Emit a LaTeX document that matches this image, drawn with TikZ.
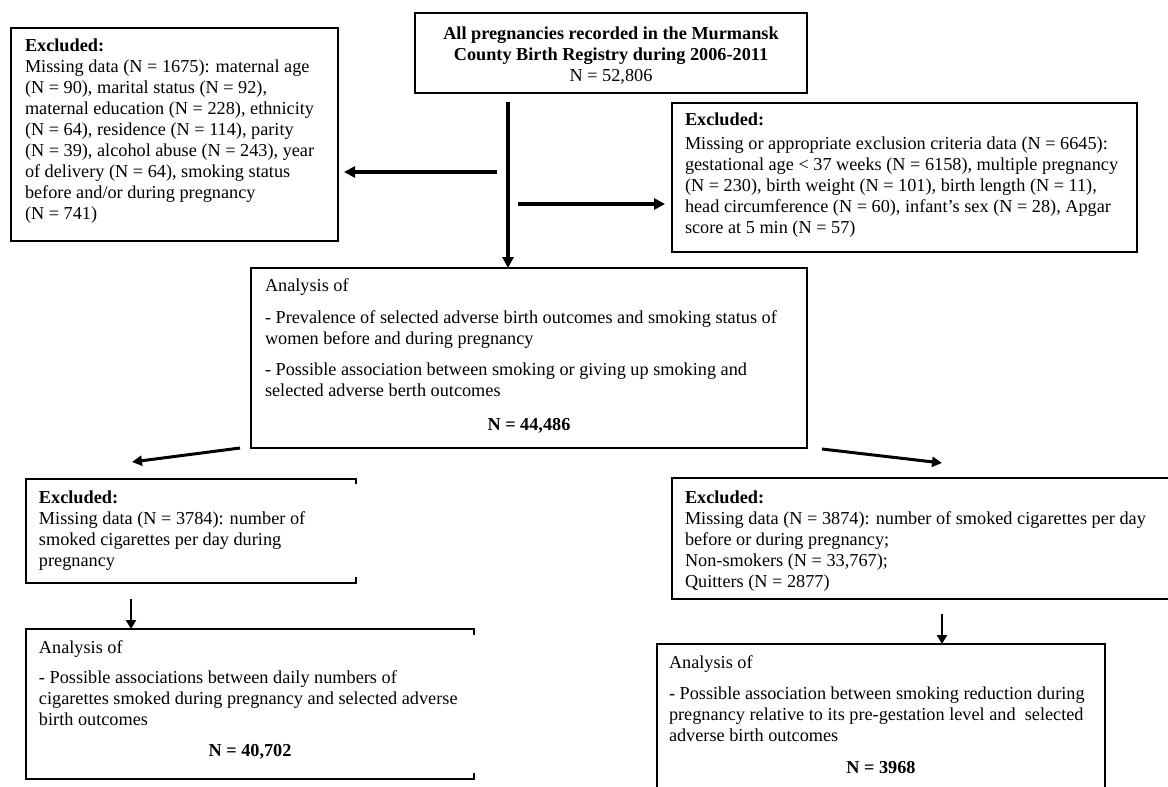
\documentclass[tikz,border=0pt]{standalone}
\usepackage{fontspec}
\setmainfont{Liberation Serif}
\usetikzlibrary{arrows.meta}
% #1 left pad, #2 box width, #3 box height, #4 top pad, #5 content
\newcommand\bxt[5]{\hspace*{#1pt}\makebox[\dimexpr#2pt-#1pt\relax][l]{\parbox[c][#3pt][t]{\dimexpr#2pt-#1pt+40pt\relax}{\raggedright\vspace*{#4pt}\strut#5}}}
% centred line: #1 box width, #2 left pad, #3 text
\newcommand\ctrl[3]{\makebox[\dimexpr#1pt-#2pt-#2pt\relax][c]{#3}}
\begin{document}
\begin{tikzpicture}[x=1pt,y=-1pt,
  every node/.style={inner sep=0pt, outer sep=0pt, anchor=north west,
    font=\fontsize{18.25pt}{21pt}\selectfont},
  boxd/.style={draw, line width=1.1pt},
  bord/.style={line width=1.1pt},
  arr/.style={line width=3.5pt, -{Triangle[length=11pt,width=11pt]}},
  arrd/.style={line width=3pt, -{Triangle[length=10pt,width=10pt]}},
  arrs/.style={line width=2.6pt, -{Triangle[length=9pt,width=10pt]}}]
\useasboundingbox (0,0) rectangle (1168,787);

% boxes
\node[boxd] (top) at (415,13) {\bxt{0}{392}{80}{11.3}{%
  \ctrl{392}{0}{\textbf{All pregnancies recorded in the Murmansk}}\\
  \ctrl{392}{0}{\textbf{County Birth Registry during 2006-2011}}\\
  \ctrl{392}{0}{N = 52,806}}};

\node[boxd] (exl) at (11,28) {\bxt{14}{327}{213}{8.3}{%
  \textbf{Excluded:}\\
  Missing data (N = 1675): maternal age\\
  (N = 90), marital status (N = 92),\\
  maternal education (N = 228), ethnicity\\
  (N = 64), residence (N = 114), parity\\
  (N = 39), alcohol abuse (N = 243), year\\
  of delivery (N = 64), smoking status\\
  before and/or during pregnancy\\
  (N = 741)}};

\node[boxd] (exr) at (672,103) {\bxt{13}{465}{149}{7.3}{%
  \textbf{Excluded:}\\[3pt]
  Missing or appropriate exclusion criteria data (N = 6645):\\
  gestational age < 37 weeks (N = 6158), multiple pregnancy\\
  (N = 230), birth weight (N = 101), birth length (N = 11),\\
  head circumference (N = 60), infant’s sex (N = 28), Apgar\\
  score at 5 min (N = 57)}};

\node[boxd] (ana) at (251,268) {\bxt{14}{556}{180}{8.3}{%
  Analysis of\\[11pt]
  - Prevalence of selected adverse birth outcomes and smoking status of\\
  women before and during pregnancy\\[10pt]
  - Possible association between smoking or giving up smoking and\\
  selected adverse berth outcomes\\[13pt]
  \ctrl{556}{14}{\textbf{N = 44,486}}}};

\node (ble) at (26,479) {\bxt{13}{330}{104}{9.3}{%
  \textbf{Excluded:}\\
  Missing data (N = 3784): number of\\
  smoked cigarettes per day during\\
  pregnancy}};

\node (bla) at (26,629) {\bxt{13}{448}{150}{9.3}{%
  Analysis of\\[9pt]
  - Possible associations between daily numbers of\\
  cigarettes smoked during pregnancy and selected adverse\\
  birth outcomes\\[10pt]
  \ctrl{448}{13}{\textbf{N = 40,702}}}};

\node (bre) at (672,478) {\bxt{13}{520}{121}{10.3}{%
  \textbf{Excluded:}\\
  Missing data (N = 3874): number of smoked cigarettes per day\\
  before or during pregnancy;\\
  Non-smokers (N = 33,767);\\
  Quitters (N = 2877)}};

\node (bra) at (657,644) {\bxt{12}{448}{160}{9.3}{%
  Analysis of\\[10pt]
  - Possible association between smoking reduction during\\
  pregnancy relative to its pre-gestation level and\ \ selected\\
  adverse birth outcomes\\[11pt]
  \ctrl{448}{12}{\textbf{N = 3968}}}};

% partial borders as printed
\draw[bord] (ble.north east) ++(0,5) -- (ble.north east) -- (ble.north west)
  -- (ble.south west) -- (ble.south east) -- ++(0,-6);
\draw[bord] (bla.north east) ++(0,6) -- (bla.north east) -- (bla.north west)
  -- (bla.south west) -- (bla.south east) -- ++(0,-6);
\draw[bord] (bre.north east) -- (bre.north west) -- (bre.south west) -- (bre.south east);
\draw[bord] (bra.south west) -- (bra.north west) -- (bra.north east) -- (bra.south east);

% connectors
\coordinate (v0) at (508,102);
\coordinate (l0) at (497,172);
\coordinate (r0) at (518,204);
\coordinate (d1s) at (240,448);
\coordinate (d1e) at (132,462);
\coordinate (d2s) at (822,449);
\coordinate (d2e) at (942,463);
\coordinate (b1) at (131,599);
\coordinate (b2) at (942,614);

\draw[arr] (v0) -- (v0 |- ana.north);
\draw[arr, shorten >=6pt] (l0) -- (l0 -| exl.east);
\draw[arr, shorten >=7pt] (r0) -- (r0 -| exr.west);
\draw[arrd] (d1s) -- (d1e);
\draw[arrd] (d2s) -- (d2e);
\draw[arrs] (b1) -- (b1 |- bla.north);
\draw[arrs] (b2) -- (b2 |- bra.north);
\end{tikzpicture}
\end{document}
